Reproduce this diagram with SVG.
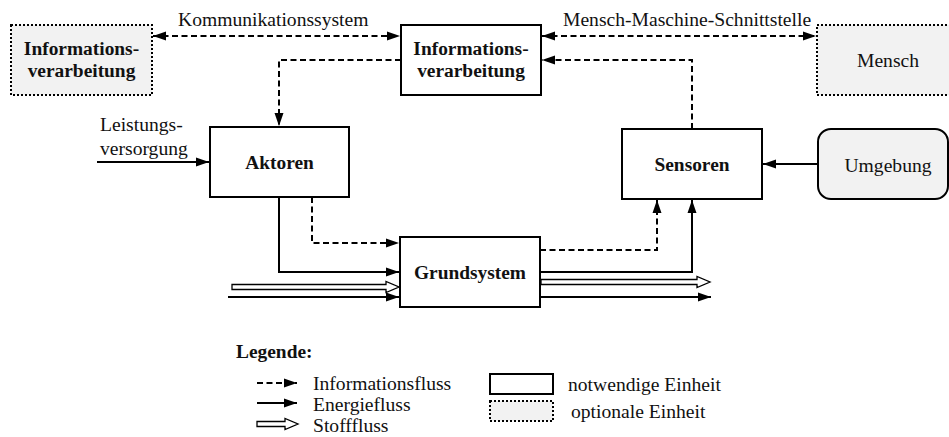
<svg xmlns="http://www.w3.org/2000/svg" width="949" height="437" viewBox="0 0 949 437" font-family="'Liberation Serif', 'DejaVu Serif', serif">
  <defs>
    <style>
      .bg { fill: #ffffff; }
      .box { fill: #ffffff; stroke: #000; stroke-width: 2; }
      .opt { fill: #f2f2f2; stroke: #000; stroke-width: 2; stroke-dasharray: 2 2; }
      .env { fill: #f2f2f2; stroke: #000; stroke-width: 2; }
      .info { fill: none; stroke: #000; stroke-width: 2; stroke-dasharray: 6 3.5; }
      .energy { fill: none; stroke: #000; stroke-width: 2; }
      .matter { fill: #ffffff; stroke: #000; stroke-width: 1.3; }
      text { font-size: 19.6px; fill: #111; }
      .b { font-weight: bold; font-size: 19.4px; }
      .c { text-anchor: middle; }
    </style>
    <marker id="ah" markerUnits="userSpaceOnUse" markerWidth="14" markerHeight="10" viewBox="0 0 14 10" refX="13" refY="5" orient="auto-start-reverse">
      <path d="M0,0.5 L13,5 L0,9.5 Z" fill="#000"/>
    </marker>
  </defs>

  <rect class="bg" x="0" y="0" width="949" height="437"/>

  <!-- units -->
  <g id="info-remote">
    <rect class="opt" x="11" y="25" width="141" height="70"/>
    <text class="b c" x="81.5" y="55">Informations-</text>
    <text class="b c" x="81.5" y="77">verarbeitung</text>
  </g>

  <g id="info-main">
    <rect class="box" x="401" y="25" width="140" height="70"/>
    <text class="b c" x="471" y="55">Informations-</text>
    <text class="b c" x="471" y="77">verarbeitung</text>
  </g>

  <g id="mensch">
    <rect class="opt" x="817" y="25" width="140" height="70"/>
    <text class="c" x="888" y="67">Mensch</text>
  </g>

  <g id="aktoren">
    <rect class="box" x="210" y="127" width="139" height="70"/>
    <text class="b c" x="279.5" y="169">Aktoren</text>
  </g>

  <g id="sensoren">
    <rect class="box" x="622" y="129" width="140" height="70"/>
    <text class="b c" x="692" y="171">Sensoren</text>
  </g>

  <g id="umgebung">
    <rect class="env" x="818" y="129" width="130" height="70" rx="13" ry="13"/>
    <text class="c" x="888" y="172">Umgebung</text>
  </g>

  <g id="grundsystem">
    <rect class="box" x="400" y="237" width="140" height="70"/>
    <text class="b c" x="470" y="279">Grundsystem</text>
  </g>

  <!-- flows -->
  <g id="connectors">
    <!-- information -->
    <path class="info" d="M153,36 H400" marker-start="url(#ah)" marker-end="url(#ah)"/>
    <path class="info" d="M542,36 H816" marker-start="url(#ah)" marker-end="url(#ah)"/>
    <path class="info" d="M401,60 H279 V126"  marker-end="url(#ah)"/>
    <path class="info" d="M692,129 V60 H542" marker-end="url(#ah)"/>
    <path class="info" d="M312,197 V243 H399" marker-end="url(#ah)"/>
    <path class="info" d="M540,250 H657 V200" marker-end="url(#ah)"/>

    <!-- energy -->
    <path class="energy" d="M97,162 H209" marker-end="url(#ah)"/>
    <path class="energy" d="M279,197 V272 H399" marker-end="url(#ah)"/>
    <path class="energy" d="M228,297 H399" marker-end="url(#ah)"/>
    <path class="energy" d="M540,272 H692 V200" marker-end="url(#ah)"/>
    <path class="energy" d="M540,297 H711" marker-end="url(#ah)"/>
    <path class="energy" d="M818,164 H763" marker-end="url(#ah)"/>

    <!-- matter -->
    <path class="matter" d="M232,284.5 H386 V281.5 L399,287 L386,292.5 V289.5 H232 Z"/>
    <path class="matter" d="M541,279.5 H697 V276.5 L710,282 L697,287.5 V284.5 H541 Z"/>
  </g>

  <!-- interface labels -->
  <text x="178" y="26">Kommunikationssystem</text>
  <text x="563" y="26">Mensch-Maschine-Schnittstelle</text>
  <text x="100" y="131">Leistungs-</text>
  <text x="100" y="155">versorgung</text>

  <!-- legend -->
  <g id="legend">
    <text class="b" x="236" y="358">Legende:</text>
    <path class="info" d="M257,383 H297" marker-end="url(#ah)"/>
    <path class="energy" d="M257,403 H297" marker-end="url(#ah)"/>
    <path class="matter" d="M257,421.5 H285 V418.5 L298,424 L285,429.5 V426.5 H257 Z"/>
    <text x="313" y="390">Informationsfluss</text>
    <text x="313" y="411">Energiefluss</text>
    <text x="313" y="432">Stofffluss</text>
    <rect class="box" x="490" y="374" width="63" height="20"/>
    <rect class="opt" x="490" y="401" width="63" height="20"/>
    <text x="568" y="391">notwendige Einheit</text>
    <text x="571" y="418">optionale Einheit</text>
  </g>
</svg>
